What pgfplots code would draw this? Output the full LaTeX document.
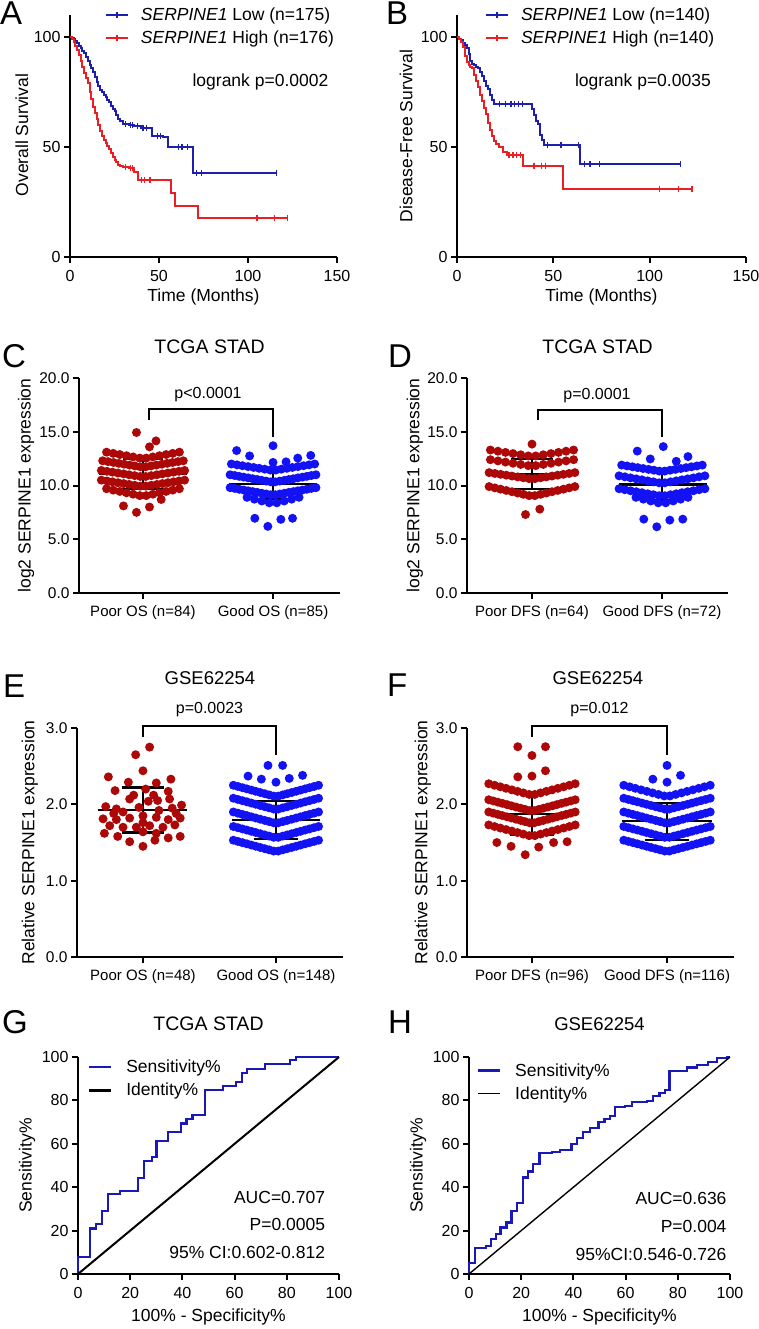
\documentclass[border=0pt]{standalone}
\usepackage{pgfplots}
\pgfplotsset{compat=1.18}
\usepackage{fontspec}
\setmainfont{Liberation Sans}
\definecolor{kmblue}{RGB}{30,30,175}
\definecolor{kmred}{RGB}{235,30,35}
\definecolor{dred}{RGB}{172,8,8}
\definecolor{dblue}{RGB}{18,18,245}
\definecolor{rocblue}{RGB}{25,25,185}
\newcommand{\fT}{\fontsize{16}{19}\selectfont}
\newcommand{\fS}{\fontsize{15.5}{18}\selectfont}
\newcommand{\fC}{\fontsize{15}{18}\selectfont}
\newcommand{\fL}{\fontsize{17.5}{21}\selectfont}
\newcommand{\fP}{\fontsize{16}{19}\selectfont}
\newcommand{\fTi}{\fontsize{19.5}{23}\selectfont}
\newcommand{\fLet}{\fontsize{33}{38}\selectfont}
\pgfplotsset{
  gp/.style={scale only axis, enlargelimits=false, clip=false,
    axis x line*=bottom, axis y line*=left,
    axis line style={line width=2.1pt},
    every tick/.style={black, line width=2pt},
    tick align=outside, major tick length=6pt,
    /pgf/number format/assume math mode=true,
    tick label style={font=\fT},
    xticklabel style={yshift=-3.5pt},
  },
  km/.style={gp, xmin=0, xmax=150, ymin=0, ymax=110, xtick={0,50,100,150}, ytick={0,50,100},
    legend cell align=left,
    legend image code/.code={\draw[##1, line width=2pt] (0pt,0pt) -- (22pt,0pt); \draw[##1, line width=1.3pt] (11pt,-3pt) -- (11pt,3.5pt);},
    legend style={anchor=north west, draw=none, fill=none, inner sep=0pt, outer sep=0pt, font=\fL, row sep=5pt, /tikz/every odd column/.append style={column sep=10pt}}},
  dot/.style={gp, ymin=0, xtick={0,1}, yticklabel style={font=\fS}, xticklabel style={font=\fC}},
  roc/.style={gp, xmin=0, xmax=100, ymin=0, ymax=100, xtick={0,20,...,100}, ytick={0,20,...,100},
    legend cell align=left,
    legend image code/.code={\draw[##1] (0pt,0pt) -- (22pt,0pt);},
    legend style={anchor=north west, draw=none, fill=none, inner sep=0pt, outer sep=0pt, font=\fL, row sep=5pt, /tikz/every odd column/.append style={column sep=12pt}}},
  sr/.style={only marks, mark=*, mark size=4.5pt, dred, mark options={draw opacity=0}},
  sb/.style={only marks, mark=*, mark size=4.5pt, dblue, mark options={draw opacity=0}},
  bar/.style={black, line width=2.2pt},
}
\begin{document}
\begin{tikzpicture}
\path[use as bounding box] (0pt,0pt) rectangle (759pt,-1329pt);

% ---------------- A ----------------
\begin{axis}[km, at={(70pt,-257pt)}, anchor=south west, width=267pt, height=242pt,
  legend style={at={(axis description cs:0.131,1.037)}}]
\addlegendimage{kmblue}
\addlegendentry{\textit{SERPINE1} Low (n=175)}
\addlegendimage{kmred}
\addlegendentry{\textit{SERPINE1} High (n=176)}
\addplot[const plot, kmblue, line width=2pt, forget plot] coordinates {(0,100)(1,99.4)(2,98.9)(3,98.3)(4,97.1)(5,96)(6,94.9)(7,93.7)(8,92.6)(9,90.9)(10,89.1)(11,87.4)(12,85.7)(13,84)(14,81.7)(15,79.4)(16,77.7)(17,76)(18,74.9)(19,73.7)(20,72.6)(21,71.4)(22,70.3)(23,68.6)(24,67.4)(25,66.3)(26,64.6)(27,62.9)(28,61.7)(30,60.6)(33,60)(36,59.4)(40,58.7)(46,55.2)(52,54.5)(55,49.8)(69,38.2)(116,38.2)};
\addplot[only marks, mark=|, mark size=3pt, kmblue, mark options={line width=1.3pt}, forget plot] coordinates {(31,60.6)(34,60)(35,60)(38,59.4)(41,58.7)(43,58.7)(49,55.2)(51,55.2)(61,49.8)(63,49.8)(66,49.8)(71,38.2)(74,38.2)(116,38.2)};
\addplot[const plot, kmred, line width=2pt, forget plot] coordinates {(0,100)(1,98.9)(2,97.7)(3,96)(4,94.3)(5,92)(6,89.2)(7,86.4)(8,83.5)(9,81.3)(10,78.9)(11,75)(12,71.6)(13,68.2)(14,65.3)(15,62.5)(16,60.2)(17,57.4)(18,55.1)(19,53.4)(20,51.7)(21,50.6)(22,48.9)(23,47.2)(24,45.5)(25,44.3)(26,43.2)(27,42)(28,41.5)(30,40.9)(33,40.3)(36,38.6)(38,35.2)(57,29.3)(59,23.4)(72,17.6)(122,17.6)};
\addplot[only marks, mark=|, mark size=3pt, kmred, mark options={line width=1.3pt}, forget plot] coordinates {(31,40.9)(34,40.3)(35,40.3)(40,35.2)(42,35.2)(45,35.2)(105,17.6)(115,17.6)(122,17.6)};
\node[font=\fL] at (axis cs:107,79.5) {logrank p=0.0002};
\node[rotate=90, font=\fL] at (axis description cs:-0.18,0.504) {Overall Survival};
\node[font=\fL] at (axis description cs:0.5,-0.165) {Time (Months)};
\end{axis}

% ---------------- B ----------------
\begin{axis}[km, at={(457pt,-257pt)}, anchor=south west, width=289pt, height=242pt,
  legend style={at={(axis description cs:0.097,1.037)}}]
\addlegendimage{kmblue}
\addlegendentry{\textit{SERPINE1} Low (n=140)}
\addlegendimage{kmred}
\addlegendentry{\textit{SERPINE1} High (n=140)}
\addplot[const plot, kmblue, line width=2pt, forget plot] coordinates {(0,100)(1,99.3)(2,98.6)(3,97.1)(4,96.4)(5,95)(6,92.1)(7,89.3)(8,87.9)(9,87.1)(10,86.4)(11,85.7)(12,84.3)(13,82.1)(14,80)(15,77.9)(16,76.4)(17,73.6)(18,71.4)(19,69.7)(38,69.7)(39,67.3)(40,64.4)(41,62)(42,60.6)(43,55.3)(44,53)(45,50.8)(64,42.4)(116,42.4)};
\addplot[only marks, mark=|, mark size=3pt, kmblue, mark options={line width=1.3pt}, forget plot] coordinates {(22,69.7)(25,69.7)(28,69.7)(30,69.7)(32,69.7)(34,69.7)(47,50.8)(54,50.8)(63,50.8)(66,42.4)(69,42.4)(74,42.4)(116,42.4)};
\addplot[const plot, kmred, line width=2pt, forget plot] coordinates {(0,100)(1,99.3)(2,97.8)(3,95.5)(4,91.4)(5,88.6)(6,87.1)(7,86.4)(8,86)(9,82.9)(10,80)(11,77.1)(12,73.6)(13,70.7)(14,67.9)(15,65)(16,60.7)(17,57.9)(18,55)(19,52.9)(20,51.4)(22,50)(24,47.7)(26,46.4)(34,41.5)(55,31)(122,31)};
\addplot[only marks, mark=|, mark size=3pt, kmred, mark options={line width=1.3pt}, forget plot] coordinates {(27,46.4)(29,46.4)(31,46.4)(33,46.4)(40,41.5)(44,41.5)(46,41.5)(105,31)(115,31)(122,31)};
\node[font=\fL] at (axis cs:96.5,79.5) {logrank p=0.0035};
\node[rotate=90, font=\fL] at (axis description cs:-0.176,0.5) {Disease-Free Survival};
\node[font=\fL] at (axis description cs:0.5,-0.165) {Time (Months)};
\end{axis}

% ---------------- C ----------------
\begin{axis}[dot, at={(79pt,-593pt)}, anchor=south west, width=261pt, height=215pt,
  xmin=-0.492, xmax=1.515, ymax=20, ytick={0,5,10,15,20}, yticklabels={0.0,5.0,10.0,15.0,20.0},
  xticklabels={Poor OS (n=84),Good OS (n=85)}]
\addplot[sr] coordinates {(-0.05,14.93)(0.1,14.15)(0.05,13.6)
(-0.28,13.1)(-0.229,12.99)(-0.178,12.88)(-0.127,12.77)(-0.076,12.66)(-0.025,12.55)(0.025,12.55)(0.076,12.66)(0.127,12.77)(0.178,12.88)(0.229,12.99)(0.28,13.1)
(-0.31,12.3)(-0.269,12.22)(-0.227,12.14)(-0.186,12.06)(-0.145,11.98)(-0.103,11.9)(-0.062,11.82)(-0.021,11.74)(0.021,11.74)(0.062,11.82)(0.103,11.9)(0.145,11.98)(0.186,12.06)(0.227,12.14)(0.269,12.22)(0.31,12.3)
(-0.32,11.4)(-0.277,11.32)(-0.235,11.24)(-0.192,11.16)(-0.149,11.08)(-0.107,11)(-0.064,10.92)(-0.021,10.84)(0.021,10.84)(0.064,10.92)(0.107,11)(0.149,11.08)(0.192,11.16)(0.235,11.24)(0.277,11.32)(0.32,11.4)
(-0.32,10.5)(-0.277,10.42)(-0.235,10.34)(-0.192,10.26)(-0.149,10.18)(-0.107,10.1)(-0.064,10.02)(-0.021,9.94)(0.021,9.94)(0.064,10.02)(0.107,10.1)(0.149,10.18)(0.192,10.26)(0.235,10.34)(0.277,10.42)(0.32,10.5)
(-0.28,9.7)(-0.229,9.57)(-0.178,9.45)(-0.127,9.32)(-0.076,9.19)(-0.025,9.06)(0.025,9.06)(0.076,9.19)(0.127,9.32)(0.178,9.45)(0.229,9.57)(0.28,9.7)
(0.14,8.7)(-0.15,8.1)(0.05,8.0)(-0.05,7.5)};
\addplot[sb] coordinates {(1,13.7)(0.72,13.25)(0.82,12.75)(1.19,12.55)(1.29,12.8)(1.1,12.2)(1,12.15)(0.86,6.95)(1.06,6.85)(1.15,6.95)(0.96,6.2)
(0.68,12)(0.723,11.92)(0.765,11.84)(0.808,11.76)(0.851,11.68)(0.893,11.6)(0.936,11.52)(0.979,11.44)(1.021,11.44)(1.064,11.52)(1.107,11.6)(1.149,11.68)(1.192,11.76)(1.235,11.84)(1.277,11.92)(1.32,12)
(0.67,11)(0.705,10.93)(0.74,10.85)(0.774,10.78)(0.809,10.71)(0.844,10.63)(0.879,10.56)(0.913,10.48)(0.948,10.41)(0.983,10.34)(1.017,10.34)(1.052,10.41)(1.087,10.48)(1.121,10.56)(1.156,10.63)(1.191,10.71)(1.226,10.78)(1.26,10.85)(1.295,10.93)(1.33,11)
(0.67,9.8)(0.705,9.73)(0.74,9.65)(0.774,9.58)(0.809,9.51)(0.844,9.43)(0.879,9.36)(0.913,9.28)(0.948,9.21)(0.983,9.14)(1.017,9.14)(1.052,9.21)(1.087,9.28)(1.121,9.36)(1.156,9.43)(1.191,9.51)(1.226,9.58)(1.26,9.65)(1.295,9.73)(1.33,9.8)
(0.8,8.9)(0.857,8.73)(0.914,8.56)(0.971,8.39)(1.029,8.39)(1.086,8.56)(1.143,8.73)(1.2,8.9)};
\addplot[bar] coordinates {(-0.34,11.1)(0.34,11.1)};
\addplot[bar] coordinates {(-0.155,12.5)(0.155,12.5)};
\addplot[bar] coordinates {(-0.155,9.7)(0.155,9.7)};
\addplot[bar] coordinates {(0,9.7)(0,12.5)};
\addplot[bar] coordinates {(0.66,10.15)(1.34,10.15)};
\addplot[bar] coordinates {(0.835,11.6)(1.165,11.6)};
\addplot[bar] coordinates {(0.835,8.75)(1.165,8.75)};
\addplot[bar] coordinates {(1,8.75)(1,11.6)};
\addplot[black, line width=2pt] coordinates {(0.05,16.1)(0.05,17.1)(1,17.1)(1,14.55)};
\node[font=\fP] at (axis cs:0.5,18.45) {p<0.0001};
\node[font=\fTi] at (axis description cs:0.5,1.144) {TCGA STAD};
\node[rotate=90, font=\fL] at (axis description cs:-0.203,0.5) {log2 SERPINE1 expression};
\end{axis}

% ---------------- D ----------------
\begin{axis}[dot, at={(467pt,-593pt)}, anchor=south west, width=261pt, height=215pt,
  xmin=-0.5, xmax=1.508, ymax=20, ytick={0,5,10,15,20}, yticklabels={0.0,5.0,10.0,15.0,20.0},
  xticklabels={Poor DFS (n=64),Good DFS (n=72)}]
\addplot[sr] coordinates {(0,13.85)(-0.05,7.3)(0.06,7.8)
(-0.32,13.3)(-0.262,13.19)(-0.204,13.08)(-0.146,12.97)(-0.087,12.86)(-0.029,12.75)(0.029,12.75)(0.087,12.86)(0.146,12.97)(0.204,13.08)(0.262,13.19)(0.32,13.3)
(-0.32,12.4)(-0.262,12.29)(-0.204,12.18)(-0.146,12.07)(-0.087,11.96)(-0.029,11.85)(0.029,11.85)(0.087,11.96)(0.146,12.07)(0.204,12.18)(0.262,12.29)(0.32,12.4)
(-0.33,11.2)(-0.286,11.12)(-0.242,11.04)(-0.198,10.96)(-0.154,10.88)(-0.11,10.8)(-0.066,10.72)(-0.022,10.64)(0.022,10.64)(0.066,10.72)(0.11,10.8)(0.154,10.88)(0.198,10.96)(0.242,11.04)(0.286,11.12)(0.33,11.2)
(-0.33,9.9)(-0.286,9.78)(-0.242,9.66)(-0.198,9.54)(-0.154,9.42)(-0.11,9.3)(-0.066,9.18)(-0.022,9.06)(0.022,9.06)(0.066,9.18)(0.11,9.3)(0.154,9.42)(0.198,9.54)(0.242,9.66)(0.286,9.78)(0.33,9.9)};
\addplot[sb] coordinates {(1.01,13.62)(0.81,13.2)(0.91,12.47)(1.11,12.25)(1.2,12.69)(0.86,6.87)(1.06,6.78)(1.16,6.87)(0.96,6.16)
(0.69,11.9)(0.731,11.82)(0.773,11.74)(0.814,11.66)(0.855,11.58)(0.897,11.5)(0.938,11.42)(0.979,11.34)(1.021,11.34)(1.062,11.42)(1.103,11.5)(1.145,11.58)(1.186,11.66)(1.227,11.74)(1.269,11.82)(1.31,11.9)
(0.67,10.9)(0.714,10.81)(0.758,10.71)(0.802,10.62)(0.846,10.53)(0.89,10.43)(0.934,10.34)(0.978,10.25)(1.022,10.25)(1.066,10.34)(1.11,10.43)(1.154,10.53)(1.198,10.62)(1.242,10.71)(1.286,10.81)(1.33,10.9)
(0.67,9.7)(0.714,9.61)(0.758,9.51)(0.802,9.42)(0.846,9.33)(0.89,9.23)(0.934,9.14)(0.978,9.05)(1.022,9.05)(1.066,9.14)(1.11,9.23)(1.154,9.33)(1.198,9.42)(1.242,9.51)(1.286,9.61)(1.33,9.7)
(0.8,8.9)(0.857,8.73)(0.914,8.56)(0.971,8.39)(1.029,8.39)(1.086,8.56)(1.143,8.73)(1.2,8.9)};
\addplot[bar] coordinates {(-0.335,11.05)(0.335,11.05)};
\addplot[bar] coordinates {(-0.16,12.45)(0.16,12.45)};
\addplot[bar] coordinates {(-0.16,9.7)(0.16,9.7)};
\addplot[bar] coordinates {(0,9.7)(0,12.45)};
\addplot[bar] coordinates {(0.67,10.1)(1.35,10.1)};
\addplot[bar] coordinates {(0.835,11.55)(1.165,11.55)};
\addplot[bar] coordinates {(0.835,8.65)(1.165,8.65)};
\addplot[bar] coordinates {(1,8.65)(1,11.55)};
\addplot[black, line width=2pt] coordinates {(0.05,16.05)(0.05,17.05)(1,17.05)(1,14.55)};
\node[font=\fP] at (axis cs:0.5,18.4) {p=0.0001};
\node[font=\fTi] at (axis description cs:0.5,1.144) {TCGA STAD};
\node[rotate=90, font=\fL] at (axis description cs:-0.2,0.5) {log2 SERPINE1 expression};
\end{axis}

% ---------------- E ----------------
\begin{axis}[dot, at={(77pt,-957pt)}, anchor=south west, width=266pt, height=229pt,
  xmin=-0.496, xmax=1.504, ymax=3, ytick={0,1,2,3}, yticklabels={0.0,1.0,2.0,3.0},
  xticklabels={Poor OS (n=48),Good OS (n=148)}]
\addplot[sr] coordinates {(0.05,2.75)(-0.055,2.65)(0,2.44)(-0.26,2.36)(0.21,2.33)(-0.11,2.29)(0.1,2.28)(-0.21,2.18)(0.02,2.2)(0.19,2.17)
(-0.1,2.07)(0.04,2.04)(0.11,2.05)(0.2,2.07)(-0.28,1.97)(-0.2,1.94)(-0.03,1.96)(0.22,1.95)(0.29,1.99)
(-0.3,1.81)(-0.2,1.8)(-0.1,1.82)(0,1.85)(0.1,1.83)(0.19,1.8)(0.28,1.82)
(-0.25,1.72)(-0.15,1.7)(-0.05,1.7)(0.05,1.72)(0.15,1.7)(0.24,1.73)
(-0.29,1.62)(0,1.64)(-0.19,1.58)(0.28,1.58)(0.1,1.62)
(-0.1,1.51)(0.09,1.53)(0.19,1.56)(0,1.45)
(-0.15,1.9)(0.12,1.92)(-0.07,2.12)(0.08,2.12)(-0.22,1.88)(0.25,1.88)(0,1.76)};
\addplot[sb] coordinates {(0.94,2.51)(1.05,2.51)(0.79,2.37)(0.89,2.33)(1,2.29)(1.1,2.34)(1.2,2.38)
(0.68,2.25)(0.714,2.234)(0.748,2.218)(0.781,2.203)(0.815,2.187)(0.848,2.171)(0.882,2.155)(0.916,2.139)(0.949,2.124)(0.983,2.108)(1.017,2.108)(1.051,2.124)(1.084,2.139)(1.118,2.155)(1.152,2.171)(1.185,2.187)(1.219,2.203)(1.252,2.218)(1.286,2.234)(1.32,2.25)
(0.68,2.08)(0.714,2.064)(0.748,2.048)(0.781,2.033)(0.815,2.017)(0.848,2.001)(0.882,1.985)(0.916,1.969)(0.949,1.954)(0.983,1.938)(1.017,1.938)(1.051,1.954)(1.084,1.969)(1.118,1.985)(1.152,2.001)(1.185,2.017)(1.219,2.033)(1.252,2.048)(1.286,2.064)(1.32,2.08)
(0.68,1.9)(0.714,1.884)(0.748,1.868)(0.781,1.853)(0.815,1.837)(0.848,1.821)(0.882,1.805)(0.916,1.789)(0.949,1.774)(0.983,1.758)(1.017,1.758)(1.051,1.774)(1.084,1.789)(1.118,1.805)(1.152,1.821)(1.185,1.837)(1.219,1.853)(1.252,1.868)(1.286,1.884)(1.32,1.9)
(0.68,1.71)(0.714,1.694)(0.748,1.678)(0.781,1.663)(0.815,1.647)(0.848,1.631)(0.882,1.615)(0.916,1.599)(0.949,1.584)(0.983,1.568)(1.017,1.568)(1.051,1.584)(1.084,1.599)(1.118,1.615)(1.152,1.631)(1.185,1.647)(1.219,1.663)(1.252,1.678)(1.286,1.694)(1.32,1.71)
(0.68,1.53)(0.714,1.514)(0.748,1.498)(0.781,1.483)(0.815,1.467)(0.848,1.451)(0.882,1.435)(0.916,1.419)(0.949,1.404)(0.983,1.388)(1.017,1.388)(1.051,1.404)(1.084,1.419)(1.118,1.435)(1.152,1.451)(1.185,1.467)(1.219,1.483)(1.252,1.498)(1.286,1.514)(1.32,1.53)};
\addplot[bar] coordinates {(-0.34,1.93)(0.33,1.93)};
\addplot[bar] coordinates {(-0.16,2.22)(0.16,2.22)};
\addplot[bar] coordinates {(-0.16,1.63)(0.16,1.63)};
\addplot[bar] coordinates {(0,1.63)(0,2.22)};
\addplot[bar] coordinates {(0.67,1.8)(1.33,1.8)};
\addplot[bar] coordinates {(0.835,2.04)(1.165,2.04)};
\addplot[bar] coordinates {(0.835,1.55)(1.165,1.55)};
\addplot[bar] coordinates {(1,1.55)(1,2.04)};
\addplot[black, line width=2pt] coordinates {(0,2.88)(0,3.02)(1,3.02)(1,2.65)};
\node[font=\fP] at (axis cs:0.5,3.24) {p=0.0023};
\node[font=\fontsize{18.5}{22}\selectfont] at (axis description cs:0.5,1.218) {GSE62254};
\node[rotate=90, font=\fL] at (axis description cs:-0.177,0.5) {Relative SERPINE1 expression};
\end{axis}

% ---------------- F ----------------
\begin{axis}[dot, at={(467pt,-957pt)}, anchor=south west, width=267pt, height=229pt,
  xmin=-0.481, xmax=1.496, ymax=3, ytick={0,1,2,3}, yticklabels={0.0,1.0,2.0,3.0},
  xticklabels={Poor DFS (n=96),Good DFS (n=116)}]
\addplot[sr] coordinates {(-0.105,2.755)(0.1,2.755)(0,2.64)(0.1,2.44)(-0.105,2.36)(0,2.37)
(-0.26,1.5)(-0.155,1.45)(0.05,1.44)(0.16,1.5)(0.26,1.51)(-0.05,1.34)
(-0.32,2.27)(-0.277,2.25)(-0.235,2.23)(-0.192,2.21)(-0.149,2.19)(-0.107,2.17)(-0.064,2.15)(-0.021,2.13)(0.021,2.13)(0.064,2.15)(0.107,2.17)(0.149,2.19)(0.192,2.21)(0.235,2.23)(0.277,2.25)(0.32,2.27)
(-0.32,2.06)(-0.286,2.044)(-0.252,2.028)(-0.219,2.013)(-0.185,1.997)(-0.152,1.981)(-0.118,1.965)(-0.084,1.949)(-0.051,1.934)(-0.017,1.918)(0.017,1.918)(0.051,1.934)(0.084,1.949)(0.118,1.965)(0.152,1.981)(0.185,1.997)(0.219,2.013)(0.252,2.028)(0.286,2.044)(0.32,2.06)
(-0.32,1.9)(-0.286,1.884)(-0.252,1.868)(-0.219,1.853)(-0.185,1.837)(-0.152,1.821)(-0.118,1.805)(-0.084,1.789)(-0.051,1.774)(-0.017,1.758)(0.017,1.758)(0.051,1.774)(0.084,1.789)(0.118,1.805)(0.152,1.821)(0.185,1.837)(0.219,1.853)(0.252,1.868)(0.286,1.884)(0.32,1.9)
(-0.32,1.73)(-0.277,1.71)(-0.235,1.69)(-0.192,1.67)(-0.149,1.65)(-0.107,1.63)(-0.064,1.61)(-0.021,1.59)(0.021,1.59)(0.064,1.61)(0.107,1.63)(0.149,1.65)(0.192,1.67)(0.235,1.69)(0.277,1.71)(0.32,1.73)};
\addplot[sb] coordinates {(1,2.51)(0.895,2.33)(1.1,2.38)(1,2.29)
(0.68,2.25)(0.723,2.23)(0.765,2.21)(0.808,2.19)(0.851,2.17)(0.893,2.15)(0.936,2.13)(0.979,2.11)(1.021,2.11)(1.064,2.13)(1.107,2.15)(1.149,2.17)(1.192,2.19)(1.235,2.21)(1.277,2.23)(1.32,2.25)
(0.68,2.08)(0.714,2.064)(0.748,2.048)(0.781,2.033)(0.815,2.017)(0.848,2.001)(0.882,1.985)(0.916,1.969)(0.949,1.954)(0.983,1.938)(1.017,1.938)(1.051,1.954)(1.084,1.969)(1.118,1.985)(1.152,2.001)(1.185,2.017)(1.219,2.033)(1.252,2.048)(1.286,2.064)(1.32,2.08)
(0.68,1.9)(0.714,1.884)(0.748,1.868)(0.781,1.853)(0.815,1.837)(0.848,1.821)(0.882,1.805)(0.916,1.789)(0.949,1.774)(0.983,1.758)(1.017,1.758)(1.051,1.774)(1.084,1.789)(1.118,1.805)(1.152,1.821)(1.185,1.837)(1.219,1.853)(1.252,1.868)(1.286,1.884)(1.32,1.9)
(0.68,1.71)(0.714,1.694)(0.748,1.678)(0.781,1.663)(0.815,1.647)(0.848,1.631)(0.882,1.615)(0.916,1.599)(0.949,1.584)(0.983,1.568)(1.017,1.568)(1.051,1.584)(1.084,1.599)(1.118,1.615)(1.152,1.631)(1.185,1.647)(1.219,1.663)(1.252,1.678)(1.286,1.694)(1.32,1.71)
(0.68,1.53)(0.714,1.514)(0.748,1.498)(0.781,1.483)(0.815,1.467)(0.848,1.451)(0.882,1.435)(0.916,1.419)(0.949,1.404)(0.983,1.388)(1.017,1.388)(1.051,1.404)(1.084,1.419)(1.118,1.435)(1.152,1.451)(1.185,1.467)(1.219,1.483)(1.252,1.498)(1.286,1.514)(1.32,1.53)};
\addplot[bar] coordinates {(-0.33,1.87)(0.33,1.87)};
\addplot[bar] coordinates {(-0.16,2.15)(0.16,2.15)};
\addplot[bar] coordinates {(-0.16,1.6)(0.16,1.6)};
\addplot[bar] coordinates {(0,1.6)(0,2.15)};
\addplot[bar] coordinates {(0.67,1.78)(1.33,1.78)};
\addplot[bar] coordinates {(0.835,2.02)(1.165,2.02)};
\addplot[bar] coordinates {(0.835,1.53)(1.165,1.53)};
\addplot[bar] coordinates {(1,1.53)(1,2.02)};
\addplot[black, line width=2pt] coordinates {(0,2.88)(0,3.02)(1,3.02)(1,2.65)};
\node[font=\fP] at (axis cs:0.5,3.24) {p=0.012};
\node[font=\fontsize{18.5}{22}\selectfont] at (axis description cs:0.49,1.218) {GSE62254};
\node[rotate=90, font=\fL] at (axis description cs:-0.165,0.5) {Relative SERPINE1 expression};
\end{axis}

% ---------------- G ----------------
\begin{axis}[roc, at={(78pt,-1274pt)}, anchor=south west, width=261pt, height=217pt,
  legend style={at={(axis description cs:0.038,0.995)}}]
\addlegendimage{rocblue, line width=2.4pt}
\addlegendentry{Sensitivity\%}
\addlegendimage{black, line width=2.4pt}
\addlegendentry{Identity\%}
\addplot[const plot, rocblue, line width=2.2pt, forget plot] coordinates {(0,0)(0,7.7)(4.6,21)(6.9,22.9)(9.1,29)(11.4,36.7)(16.1,38.4)(23.1,44.4)(25.3,52.2)(28.2,54.1)(30.1,61.4)(34.6,65.6)(39.5,69.4)(41.6,71.4)(43.9,73.3)(48.7,84.8)(55.7,86.8)(60.5,88.6)(62.7,92.5)(64.6,94.5)(71.6,96.6)(81.2,98.6)(83.5,100)(100,100)};
\addplot[black, line width=2pt, forget plot] coordinates {(0,0)(100,100)};
\node[anchor=east, font=\fL] at (axis cs:96,35.5) {AUC=0.707};
\node[anchor=east, font=\fL] at (axis cs:96,22.6) {P=0.0005};
\node[anchor=east, font=\fL] at (axis cs:96,10.1) {95\% CI:0.602-0.812};
\node[font=\fTi] at (axis description cs:0.5,1.152) {TCGA STAD};
\node[rotate=90, font=\fL] at (axis description cs:-0.195,0.5) {Sensitivity\%};
\node[font=\fL] at (axis description cs:0.5,-0.198) {100\% - Specificity\%};
\end{axis}

% ---------------- H ----------------
\begin{axis}[roc, at={(469pt,-1274pt)}, anchor=south west, width=261pt, height=217pt,
  legend style={at={(axis description cs:0.03,0.98)}}]
\addlegendimage{rocblue, line width=2.4pt}
\addlegendentry{Sensitivity\%}
\addlegendimage{black, line width=1.6pt}
\addlegendentry{Identity\%}
\addplot[const plot, rocblue, line width=2.2pt, forget plot] coordinates {(0,0)(0,4.9)(2.3,12.1)(6.5,12.9)(8.3,16.1)(10.3,18.3)(12.1,21.4)(14.4,23.7)(16.3,29.2)(18.5,32.6)(20.8,44.5)(22.7,47.2)(24.6,50.7)(27,55.6)(31.7,56.4)(34.9,57.1)(39.3,59.8)(41.3,62.8)(43.8,65.3)(46.4,67.4)(49.6,69.9)(51.9,71.4)(54,73)(55.9,76.8)(59.8,77.4)(62.3,79.1)(68.1,79.9)(70.4,82.2)(73,83.3)(75.1,84.8)(76.8,93.5)(83.4,95.2)(87.5,96.3)(91.7,97.8)(94.9,99.4)(98.7,100)(100,100)};
\addplot[black, line width=1.4pt, forget plot] coordinates {(0,0)(100,100)};
\node[anchor=east, font=\fL] at (axis cs:100,34.6) {AUC=0.636};
\node[anchor=east, font=\fL] at (axis cs:100,21.7) {P=0.004};
\node[anchor=east, font=\fL] at (axis cs:100,8.8) {95\%CI:0.546-0.726};
\node[font=\fontsize{18.5}{22}\selectfont] at (axis description cs:0.5,1.152) {GSE62254};
\node[rotate=90, font=\fL] at (axis description cs:-0.195,0.5) {Sensitivity\%};
\node[font=\fL] at (axis description cs:0.5,-0.198) {100\% - Specificity\%};
\end{axis}

% panel letters
\node[anchor=base west, inner sep=0pt, font=\fLet] at (0pt,-25pt) {A};
\node[anchor=base west, inner sep=0pt, font=\fLet] at (386pt,-25pt) {B};
\node[anchor=base west, inner sep=0pt, font=\fLet] at (2pt,-367pt) {C};
\node[anchor=base west, inner sep=0pt, font=\fLet] at (388pt,-367pt) {D};
\node[anchor=base west, inner sep=0pt, font=\fLet] at (3pt,-697pt) {E};
\node[anchor=base west, inner sep=0pt, font=\fLet] at (387pt,-696pt) {F};
\node[anchor=base west, inner sep=0pt, font=\fLet] at (2pt,-1033pt) {G};
\node[anchor=base west, inner sep=0pt, font=\fLet] at (388pt,-1033pt) {H};
\end{tikzpicture}
\end{document}
